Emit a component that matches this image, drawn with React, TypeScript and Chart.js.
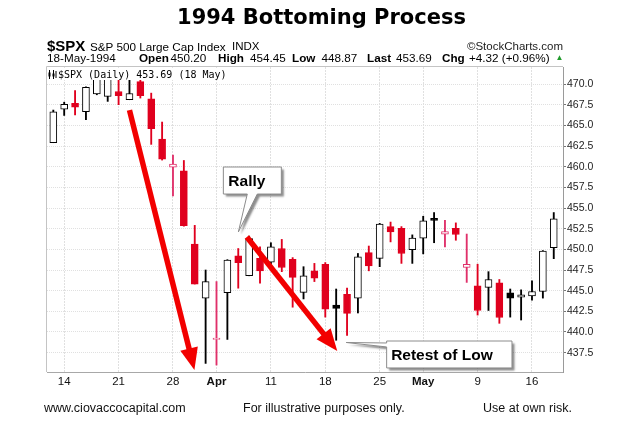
import React, { useEffect, useRef } from 'react';
import { Chart, registerables } from 'chart.js';
Chart.register(...registerables);

// ---- data ----
const dates = [
  'Mar 11', 'Mar 14', 'Mar 15', 'Mar 16', 'Mar 17', 'Mar 18', 'Mar 21', 'Mar 22', 'Mar 23', 'Mar 24', 'Mar 25',
  'Mar 28', 'Mar 29', 'Mar 30', 'Mar 31', 'Apr 4', 'Apr 5', 'Apr 6', 'Apr 7', 'Apr 8', 'Apr 11', 'Apr 12',
  'Apr 13', 'Apr 14', 'Apr 15', 'Apr 18', 'Apr 19', 'Apr 20', 'Apr 21', 'Apr 22', 'Apr 25', 'Apr 26', 'Apr 28',
  'Apr 29', 'May 2', 'May 3', 'May 4', 'May 5', 'May 6', 'May 9', 'May 10', 'May 11', 'May 12', 'May 13',
  'May 16', 'May 17', 'May 18',
];
const opens = [
  462.9, 466.95, 467.65, 466.65, 468.8, 468.5, 469.1, 468.1, 470.3, 468.2, 463.35,
  459.95, 459.5, 450.65, 444.1, 439.1, 444.75, 449.2, 446.8, 448.9, 448.45, 450.1,
  448.8, 444.8, 447.4, 448.2, 443.25, 444.55, 444.1, 449.6, 448.9, 452.75, 452.55,
  449.95, 451.35, 453.75, 451.85, 452.55, 447.8, 445.6, 445.4, 445.95, 444.75, 444.2,
  444.35, 444.9, 450.2,
];
const highs = [
  466.85, 467.8, 469.2, 469.65, 471.2, 471.5, 471.0, 470.5, 470.6, 468.9, 465.4,
  461.4, 460.75, 452.9, 447.5, 446.1, 448.75, 450.1, 451.6, 450.3, 450.8, 451.2,
  449.0, 447.9, 448.3, 448.4, 445.2, 445.3, 449.5, 450.4, 453.15, 453.3, 452.75,
  451.75, 454.0, 454.45, 453.5, 453.2, 451.85, 448.2, 447.3, 446.35, 445.2, 445.1,
  446.2, 449.85, 454.45,
];
const lows = [
  462.9, 466.2, 466.25, 465.7, 468.7, 467.9, 467.5, 468.1, 468.3, 462.7, 460.8,
  456.45, 452.8, 445.8, 436.2, 436.0, 439.1, 445.3, 446.8, 445.9, 448.2, 447.3,
  443.0, 444.0, 446.1, 441.8, 439.0, 439.6, 442.3, 447.4, 447.9, 450.9, 448.3,
  448.3, 449.45, 450.8, 450.3, 451.1, 446.0, 442.05, 442.6, 441.05, 441.8, 441.45,
  443.85, 444.1, 448.87,
];
const closes = [
  466.65, 467.55, 467.2, 469.6, 470.9, 471.0, 468.6, 468.85, 468.6, 464.6, 460.9,
  460.3, 452.85, 445.8, 446.1, 439.25, 448.7, 448.4, 451.3, 447.4, 450.3, 447.8,
  446.6, 446.8, 446.5, 442.75, 442.85, 442.25, 449.1, 448.0, 453.05, 452.1, 449.5,
  451.35, 453.45, 453.5, 452.15, 451.8, 448.2, 442.6, 446.35, 441.75, 444.1, 444.5,
  444.9, 449.8, 453.69,
];
const tickIdx = [1, 6, 11, 15, 20, 25, 30, 34, 39, 44];
const tickLabels = ['14', '21', '28', 'Apr', '11', '18', '25', 'May', '9', '16'];

// ---- annotations, in data units (index, price) ----
const arrows = [
  { x1: 7.0, y1: 466.85, x2: 12.97, y2: 435.4 },
  { x1: 17.79, y1: 451.49, x2: 26.1, y2: 437.7 },
];
const rally = { text: 'Rally', x1: 15.63, x2: 20.96, y1: 459.96, y2: 456.69, b1: 17.83, b2: 18.75, tipX: 17.01, tipY: 452.1 };
const retest = { text: 'Retest of Low', x1: 30.64, x2: 42.16, y1: 438.91, y2: 435.65, b1: 438.67, b2: 438.19, tipX: 26.92, tipY: 438.73 };

const RED = '#e0001e';
const PINK = '#e0306a';
const BLACK = '#000000';
const SANS = '"Liberation Sans", Arial, sans-serif';

function drawArrow(ctx: CanvasRenderingContext2D, x1: number, y1: number, x2: number, y2: number) {
  const ang = Math.atan2(y2 - y1, x2 - x1);
  const headLen = 22, headW = 9;
  const bx = x2 - headLen * Math.cos(ang), by = y2 - headLen * Math.sin(ang);
  ctx.strokeStyle = '#f20000';
  ctx.fillStyle = '#f20000';
  ctx.lineWidth = 5.5;
  ctx.lineCap = 'butt';
  ctx.beginPath();
  ctx.moveTo(x1, y1);
  ctx.lineTo(bx + 2 * Math.cos(ang), by + 2 * Math.sin(ang));
  ctx.stroke();
  ctx.beginPath();
  ctx.moveTo(x2, y2);
  ctx.lineTo(bx + headW * Math.sin(ang), by - headW * Math.cos(ang));
  ctx.lineTo(bx - headW * Math.sin(ang), by + headW * Math.cos(ang));
  ctx.closePath();
  ctx.fill();
}

function drawCallout(ctx: CanvasRenderingContext2D, pts: number[][], text: string, tx: number, ty: number) {
  ctx.save();
  ctx.beginPath();
  pts.forEach((p, k) => (k ? ctx.lineTo(p[0], p[1]) : ctx.moveTo(p[0], p[1])));
  ctx.closePath();
  ctx.shadowColor = 'rgba(0,0,0,0.45)';
  ctx.shadowOffsetX = 2.5;
  ctx.shadowOffsetY = 2.5;
  ctx.shadowBlur = 2;
  ctx.fillStyle = '#ffffff';
  ctx.fill();
  ctx.shadowColor = 'transparent';
  ctx.strokeStyle = '#8c8c8c';
  ctx.lineWidth = 1;
  ctx.stroke();
  ctx.fillStyle = '#000';
  ctx.font = `bold 15.5px ${SANS}`;
  ctx.textBaseline = 'middle';
  ctx.fillText(text, tx, ty);
  ctx.restore();
}

const framePlugin = {
  id: 'frame',
  beforeDatasetsDraw(chart: any) {
    const { ctx, chartArea: a } = chart;
    ctx.save();
    ctx.strokeStyle = '#c4c4c4';
    ctx.lineWidth = 1;
    ctx.beginPath();
    ctx.moveTo(a.left - 0.5, a.bottom);
    ctx.lineTo(a.left - 0.5, a.top - 0.5);
    ctx.lineTo(a.right, a.top - 0.5);
    ctx.stroke();
    ctx.restore();
  },
};

const annotPlugin = {
  id: 'annot',
  afterDatasetsDraw(chart: any) {
    const { ctx } = chart;
    const X = (v: number) => chart.scales.x.getPixelForValue(v);
    const Y = (v: number) => chart.scales.y.getPixelForValue(v);
    ctx.save();
    arrows.forEach((a) => drawArrow(ctx, X(a.x1), Y(a.y1), X(a.x2), Y(a.y2)));
    const r = rally;
    drawCallout(
      ctx,
      [[X(r.x1), Y(r.y1)], [X(r.x2), Y(r.y1)], [X(r.x2), Y(r.y2)], [X(r.b2), Y(r.y2)], [X(r.tipX), Y(r.tipY)], [X(r.b1), Y(r.y2)], [X(r.x1), Y(r.y2)]],
      r.text, X(r.x1) + 5, (Y(r.y1) + Y(r.y2)) / 2 + 1,
    );
    const t = retest;
    drawCallout(
      ctx,
      [[X(t.x1), Y(t.y1)], [X(t.x2), Y(t.y1)], [X(t.x2), Y(t.y2)], [X(t.x1), Y(t.y2)], [X(t.x1), Y(t.b2)], [X(t.tipX), Y(t.tipY)], [X(t.x1), Y(t.b1)]],
      t.text, X(t.x1) + 4.5, (Y(t.y1) + Y(t.y2)) / 2 + 1,
    );
    ctx.restore();
  },
};

type TP = { x: number; base: number; size: number; bold?: boolean; family?: string; color?: string; right?: boolean; children: React.ReactNode };
const T = ({ x, base, size, bold, family, color, right, children }: TP) => (
  <div
    style={{
      position: 'absolute',
      ...(right ? { right: 644 - x } : { left: x }),
      top: base - 0.8465 * size,
      fontSize: size,
      lineHeight: size + 'px',
      fontFamily: family || SANS,
      fontWeight: bold ? 700 : 400,
      whiteSpace: 'nowrap',
      color: color || '#000',
    }}
  >
    {children}
  </div>
);

export default function App() {
  const ref = useRef<HTMLCanvasElement>(null);
  useEffect(() => {
    const colors = closes.map((c, i) => {
      const prev = i > 0 ? closes[i - 1] : opens[i];
      const up = c >= opens[i];
      if (c < prev) return up ? PINK : RED;
      return BLACK;
    });
    const fills = closes.map((c, i) => (c >= opens[i] ? '#ffffff' : colors[i]));
    const chart = new Chart(ref.current as HTMLCanvasElement, {
      type: 'bar',
      data: {
        datasets: [
          {
            label: 'body',
            data: dates.map((_, i) => ({ x: i, y: [opens[i], closes[i]] })) as any,
            backgroundColor: fills,
            borderColor: colors,
            borderWidth: 1,
            borderSkipped: false,
            barThickness: 7,
            grouped: false,
          } as any,
          {
            label: 'wick',
            data: dates.map((_, i) => ({ x: i, y: [lows[i], highs[i]] })) as any,
            backgroundColor: colors,
            borderWidth: 0,
            barThickness: 1.2,
            grouped: false,
          } as any,
        ],
      },
      options: {
        animation: false,
        responsive: false,
        layout: { padding: { left: 47, top: 67, right: 0, bottom: 0 } },
        plugins: { legend: { display: false }, tooltip: { enabled: false }, title: { display: false } },
        scales: {
          x: {
            type: 'linear',
            offset: false,
            min: -0.58,
            max: 46.85,
            afterBuildTicks: (s: any) => {
              s.ticks = tickIdx.map((v) => ({ value: v }));
            },
            afterFit: (s: any) => {
              s.height = 54;
            },
            ticks: {
              autoSkip: false,
              maxRotation: 0,
              padding: 3,
              color: '#111',
              font: (c: any) => ({
                family: SANS,
                size: 11.5,
                weight: c.tick && (c.tick.label === 'Apr' || c.tick.label === 'May') ? 'bold' : 'normal',
              }),
              callback: (v: any) => tickLabels[tickIdx.indexOf(Number(v))] ?? '',
            },
            grid: { color: '#e0e0e0', drawTicks: false, offset: false },
            border: { color: '#a8a8a8', dash: [2, 1] },
          } as any,
          y: {
            position: 'right',
            min: 435.16,
            max: 472.06,
            afterFit: (s: any) => {
              s.width = 81;
            },
            ticks: {
              stepSize: 2.5,
              includeBounds: false,
              padding: 1,
              color: '#222',
              font: { family: SANS, size: 10.5 },
              callback: (v: any) => Number(v).toFixed(1),
            },
            grid: { color: '#e0e0e0', tickLength: 3, tickColor: '#777' },
            border: { color: '#9a9a9a', dash: [1, 1] },
          } as any,
        },
      },
      plugins: [framePlugin, annotPlugin],
    });
    return () => chart.destroy();
  }, []);

  const r2 = 61.5;
  const r1 = 50.5;
  return (
    <div style={{ position: 'absolute', left: 0, top: 0, width: 644, height: 426, background: '#fff', overflow: 'hidden' }}>
      <canvas ref={ref} width={644} height={426} style={{ position: 'absolute', left: 0, top: 0 }} />
      <div
        style={{
          position: 'absolute', left: 0, width: 643, top: 25 - 0.846 * 21, textAlign: 'center',
          fontFamily: '"DejaVu Sans", sans-serif', fontWeight: 700, fontSize: 21, lineHeight: '21px', color: '#000',
        }}
      >
        1994 Bottoming Process
      </div>
      <T x={47} base={r1} size={15} bold>$SPX</T>
      <T x={90} base={r1} size={11.7}>S&amp;P 500 Large Cap Index</T>
      <T x={232} base={r1} size={11.5}>INDX</T>
      <T x={563} base={r1} size={11.5} right color="#222">©StockCharts.com</T>
      <T x={47} base={r2} size={11.7}>18-May-1994</T>
      <T x={139} base={r2} size={11.7} bold>Open</T>
      <T x={170.5} base={r2} size={11.7}>450.20</T>
      <T x={218} base={r2} size={11.7} bold>High</T>
      <T x={250} base={r2} size={11.7}>454.45</T>
      <T x={292} base={r2} size={11.7} bold>Low</T>
      <T x={321.5} base={r2} size={11.7}>448.87</T>
      <T x={367} base={r2} size={11.7} bold>Last</T>
      <T x={396} base={r2} size={11.7}>453.69</T>
      <T x={442} base={r2} size={11.7} bold>Chg</T>
      <T x={469} base={r2} size={11.7}>+4.32 (+0.96%)</T>
      <T x={555.5} base={r2 - 1} size={8} color="#1f9a2a">▲</T>
      <div style={{ position: 'absolute', left: 47, top: 68, width: 182, height: 12, background: '#fff' }}>
        <svg width={9} height={10} style={{ position: 'absolute', left: 1, top: 2 }}>
          <line x1={1.5} y1={0} x2={1.5} y2={9} stroke="#000" strokeWidth={1} />
          <rect x={0.5} y={2.5} width={2} height={4} fill="#000" />
          <line x1={5.5} y1={0} x2={5.5} y2={9} stroke="#000" strokeWidth={1} />
          <rect x={4.5} y={3.5} width={2} height={3} fill="#000" />
          <line x1={8} y1={1} x2={8} y2={8} stroke="#000" strokeWidth={1} />
        </svg>
      </div>
      <T x={58} base={78} size={10} family='"DejaVu Sans Mono", monospace'>$SPX (Daily) 453.69 (18 May)</T>
      <T x={44} base={413} size={12.5} color="#111">www.ciovaccocapital.com</T>
      <T x={243} base={413} size={12.5} color="#111">For illustrative purposes only.</T>
      <T x={483} base={413} size={12.5} color="#111">Use at own risk.</T>
    </div>
  );
}
